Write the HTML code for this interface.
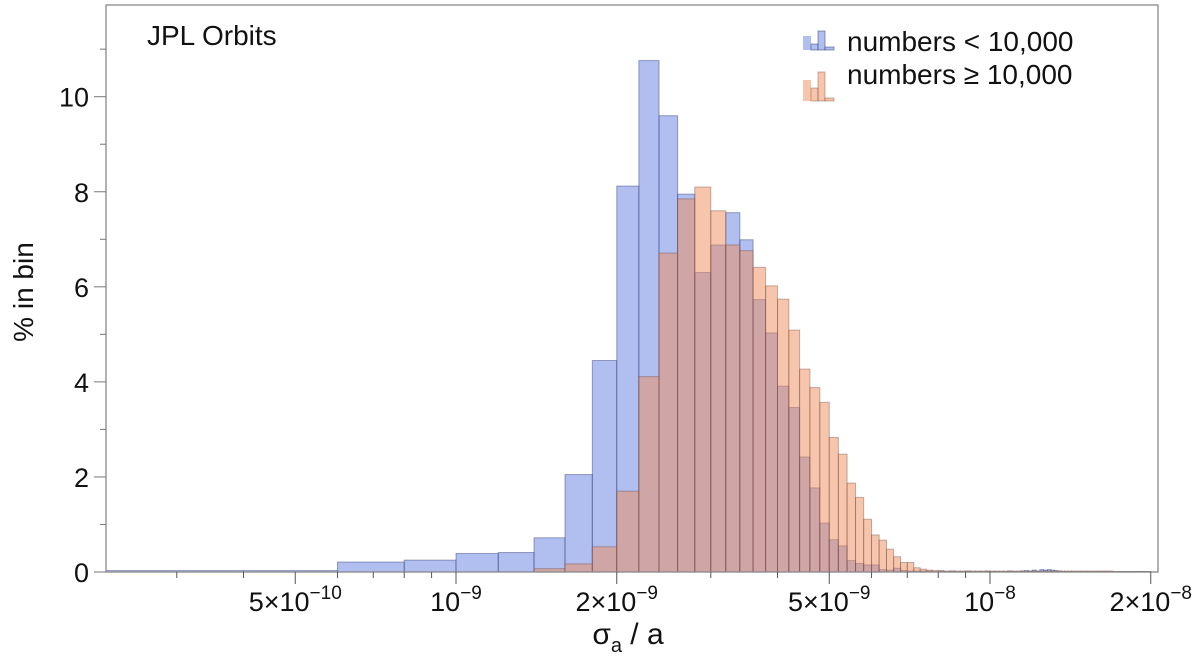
<!DOCTYPE html>
<html><head><meta charset="utf-8"><style>
html,body{margin:0;padding:0;background:#fff;}
svg{display:block;font-family:"Liberation Sans",sans-serif;}
</style></head><body>
<svg id="chart" width="1200" height="664" viewBox="0 0 1200 664">
<g id="bars"></g>
<g id="axes"></g>
<text x="147" y="45" font-size="28" fill="#111">JPL Orbits</text>
<g>
 <g>
  <rect x="803" y="36" width="8" height="14" fill="rgba(100,125,225,0.5)"/>
  <rect x="811" y="44" width="7" height="6" fill="rgba(100,125,225,0.5)" stroke="rgba(50,60,120,0.5)"/>
  <rect x="818" y="31" width="7" height="19" fill="rgba(100,125,225,0.5)" stroke="rgba(50,60,120,0.5)"/>
  <rect x="825" y="47" width="9" height="3" fill="rgba(100,125,225,0.5)" stroke="rgba(50,60,120,0.5)"/>
  <text x="847" y="51" font-size="28" fill="#111">numbers &lt; 10,000</text>
 </g>
 <g>
  <rect x="803" y="80" width="8" height="21" fill="rgba(240,140,90,0.5)"/>
  <rect x="811" y="88" width="7" height="13" fill="rgba(240,140,90,0.5)" stroke="rgba(120,70,50,0.4)"/>
  <rect x="818" y="72" width="7" height="29" fill="rgba(240,140,90,0.5)" stroke="rgba(120,70,50,0.4)"/>
  <rect x="825" y="98" width="9" height="3" fill="rgba(240,140,90,0.5)" stroke="rgba(120,70,50,0.4)"/>
  <text x="847" y="84" font-size="28" fill="#111">numbers ≥ 10,000</text>
 </g>
</g>
<text x="0" y="0" transform="translate(33,292) rotate(-90)" text-anchor="middle" font-size="28" fill="#111">% in  bin</text>
<text x="628" y="644" text-anchor="middle" font-size="30" fill="#111">σ<tspan font-size="20" dy="8">a</tspan><tspan dy="-8"> / a</tspan></text>
</svg>
<script>
// bin k covers [k*binWidth, (k+1)*binWidth]
const binWidth = 2e-10;
const binStart = [1,2,3,4,5,6,7,8,9,10,11,12,13,14,15,16,17,18,19,20,21,22,23,24,25,26,27,28,29,30,31,32,33,34,35,36,37,38,39,40,41,42,43,44,45,46,47,48,49,50,51,52,53,54,55,56,57,58,59,60,61,62,63,64,65,66,67,68,69,70,71,72,73,74,75,76,77,78,79,80,81,82,83,84,85,86,87,88,89,90,91,92,93,94,95,96,97,98,99];
const blueVals = [0.03,0.03,0.21,0.25,0.39,0.41,0.72,2.05,4.45,8.12,10.76,9.6,7.95,6.3,6.88,7.56,6.99,5.73,5.03,3.91,3.46,2.42,1.77,1.03,0.68,0.55,0.24,0.18,0.15,0.15,0.05,0.04,0.08,0.03,0.02,0.02,0.02,0.02,0.01,0.02,0.01,0.02,0.01,0.01,0.02,0.01,0.01,0.01,0.02,0.01,0.01,0.01,0.01,0.02,0.01,0.01,0.02,0.03,0.02,0.04,0.02,0.05,0.04,0.05,0.04,0.03,0.02,0.01,0.01,0.01,0.01,0.01,0.01,0.01,0.01,0.01,0.01,0.01,0.01,0.01,0.01,0.01,0.01,0.01,0.01,0.01,0.01,0.01,0.01,0.01,0.01,0.01,0.01,0.01,0.01,0.01,0.01,0.01,0.01];
const orangeVals = [0,0,0,0,0,0,0.07,0.17,0.53,1.7,4.11,6.71,7.85,8.1,7.6,6.88,6.76,6.41,6.02,5.74,5.09,4.27,3.88,3.57,2.83,2.48,1.87,1.57,1.11,0.78,0.67,0.48,0.32,0.2,0.2,0.09,0.06,0.04,0.03,0.03,0.02,0.02,0.02,0.02,0.02,0.02,0.02,0.02,0.02,0.02,0.02,0.02,0.02,0.02,0.02,0.02,0.02,0.02,0.02,0.02,0.02,0.02,0.02,0.02,0.02,0.02,0.02,0.02,0.02,0.02,0.02,0.02,0.02,0.02,0.02,0.02,0.02,0.02,0.02,0.02,0.02,0.02,0.02,0.02,0.01,0.01,0.01,0.01,0.01,0.01,0.01,0.01,0.01,0.01,0.01,0.01,0.01,0.01,0.01];
const yTicks = [0,2,4,6,8,10];
const xMajorTicks = [5e-10,1e-9,2e-9,5e-9,1e-8,2e-8];
const xTickMant = ["5","","2","5","","2"];
const xTickExp = ["−10","−9","−9","−9","−8","−8"];

const NS = "http://www.w3.org/2000/svg";
const L = 106, R = 1158, T = 5, B = 572;
function xs(v){ return 456 + 534 * Math.log10(v / 1e-9); }
function ys(v){ return B - 47.53 * v; }
function mk(tag, attrs, parent){
  const e = document.createElementNS(NS, tag);
  for (const k in attrs) e.setAttribute(k, attrs[k]);
  parent.appendChild(e); return e;
}
const bars = document.getElementById('bars');
const axes = document.getElementById('axes');
function drawSeries(vals, fill, stroke, name){
  binStart.forEach((k, i) => {
    const x0 = Math.max(xs(k * binWidth), L), x1 = Math.min(xs((k + 1) * binWidth), R);
    if (x1 <= L) return;
    const v = vals[i]; if (!v) return;
    const r = mk('rect', {x: x0, y: ys(v), width: Math.max(x1 - x0, 0.5), height: B - ys(v), fill: fill, stroke: stroke, 'stroke-width': 1}, bars);
    
    
  });
}
drawSeries(blueVals, 'rgba(100,125,225,0.5)', 'rgba(50,60,120,0.45)', 'low');
drawSeries(orangeVals, 'rgba(240,140,90,0.5)', 'rgba(110,70,60,0.4)', 'high');

const frame = mk('rect', {x: L, y: T, width: R - L, height: B - T, fill: 'none', stroke: '#888', 'stroke-width': 1.3}, axes);


for (let v = 0; v <= 11; v++) {
  const major = v % 2 === 0;
  mk('line', {x1: L - (major ? 12 : 6), x2: L, y1: ys(v), y2: ys(v), stroke: '#777', 'stroke-width': 1}, axes);
}
yTicks.forEach(v => {
  const t = mk('text', {x: 89, y: ys(v) + 10, 'text-anchor': 'end', 'font-size': 27, fill: '#111'}, axes);
  t.textContent = v;
  
  
});
for (let d = -10; d <= -8; d++) for (let m = 1; m <= 9; m++) {
  const v = m * Math.pow(10, d); const x = xs(v);
  if (x < L || x > R) continue;
  const major = xMajorTicks.some(t => Math.abs(t - v) / v < 1e-6);
  mk('line', {x1: x, x2: x, y1: B, y2: B + (major ? 12 : 6), stroke: '#555', 'stroke-width': 1}, axes);
}
xMajorTicks.forEach((v, i) => {
  const t = mk('text', {x: xs(v), y: 611, 'text-anchor': 'middle', 'font-size': 27, fill: '#111'}, axes);
  
  
  const base = (xTickMant[i] ? xTickMant[i] + '×' : '') + '10';
  const s1 = mk('tspan', {}, t); s1.textContent = base;
  const s2 = mk('tspan', {dy: -12, 'font-size': 19}, t); s2.textContent = xTickExp[i];
});
</script>
</body></html>
